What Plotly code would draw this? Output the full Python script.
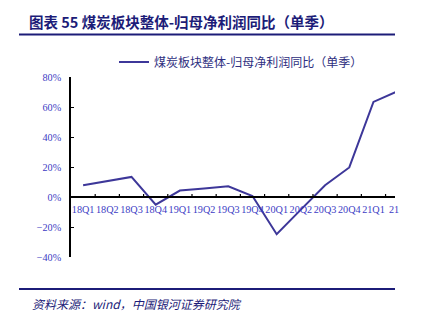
import plotly.graph_objects as go

# Quarterly YoY growth of attributable net profit, coal sector (%)
quarters = ["18Q1", "18Q2", "18Q3", "18Q4", "19Q1", "19Q2", "19Q3",
            "19Q4", "20Q1", "20Q2", "20Q3", "20Q4", "21Q1", "21Q2"]
yoy_pct = [7.8, 10.6, 13.4, -5.1, 4.3, 5.6, 7.1,
           0.7, -24.8, -8.4, 7.8, 19.7, 63.4, 70.6]
y_ticks = [-40, -20, 0, 20, 40, 60, 80]
y_tick_labels = ["−40%", "−20%", "0%", "20%", "40%", "60%", "80%"]

series_name = "煤炭板块整体-归母净利润同比（单季）"
title_text = "图表 55 煤炭板块整体-归母净利润同比（单季）"
source_text = "资料来源：wind，中国银河证券研究院"

W, H = 424, 331
L, R, T, B = 71, 29, 77, 74
PW, PH = W - L - R, H - T - B


def px(x):
    return (x - L) / PW


def py(y):
    return (H - B - y) / PH


NAVY = "#1c1c78"
LINE = "#3d3799"
TICK = "#3b3bc4"
TICK_FONT = dict(family="Liberation Serif", size=10.2, color=TICK)

fig = go.Figure()
fig.add_trace(go.Scatter(
    x=list(range(len(quarters))), y=yoy_pct, mode="lines",
    name=series_name, line=dict(color=LINE, width=2),
))

fig.update_layout(
    width=W, height=H,
    margin=dict(l=L, r=R, t=T, b=B),
    paper_bgcolor="white", plot_bgcolor="white",
    showlegend=True,
    legend=dict(x=px(114), y=py(62), xanchor="left", yanchor="middle",
                font=dict(family="Noto Sans CJK SC", size=12, color="#2e2e80"),
                bgcolor="rgba(0,0,0,0)", itemwidth=30),
    xaxis=dict(
        range=[-0.5, 12.89],
        tickmode="array",
        tickvals=list(range(len(quarters) - 1)),
        ticktext=quarters[:-1],
        tickangle=0,
        showgrid=False, zeroline=False,
        showline=True, linecolor="black", linewidth=1.5,
        anchor="free", position=py(196.7),
        ticks="", ticklabelstandoff=3, tickfont=TICK_FONT,
    ),
    yaxis=dict(
        range=[-40, 80],
        tickmode="array", tickvals=y_ticks, ticktext=y_tick_labels,
        showgrid=False, zeroline=False,
        showline=True, linecolor="black", linewidth=1.5,
        ticks="inside", ticklen=3, tickcolor="black", tickwidth=1.2,
        ticklabelstandoff=6, tickfont=TICK_FONT,
    ),
)

# boundary tick marks on the category axis (pointing upward from the zero line)
for i in range(len(quarters) - 1):
    fig.add_shape(type="line", xref="x", yref="y",
                  x0=i + 0.5, x1=i + 0.5, y0=0, y1=2.0,
                  line=dict(color="black", width=1.2))

# truncated label for the last quarter
fig.add_annotation(x=12.55, y=py(209), xref="x", yref="paper",
                   text="21", showarrow=False, xanchor="left", yanchor="middle",
                   font=TICK_FONT)

# header and footer
fig.add_annotation(x=px(27), y=py(21), xref="paper", yref="paper",
                   text="<b>" + title_text + "</b>",
                   showarrow=False, xanchor="left", yanchor="middle",
                   font=dict(family="Noto Sans CJK SC", size=14.5, color=NAVY))
fig.add_shape(type="line", xref="paper", yref="paper",
              x0=px(19), x1=px(395), y0=py(34.5), y1=py(34.5),
              line=dict(color=NAVY, width=2))
fig.add_shape(type="line", xref="paper", yref="paper",
              x0=px(19), x1=px(395), y0=py(289), y1=py(289),
              line=dict(color=NAVY, width=2))
fig.add_annotation(x=px(30), y=py(303), xref="paper", yref="paper",
                   text="<i>" + source_text + "</i>", showarrow=False,
                   xanchor="left", yanchor="middle",
                   font=dict(family="Noto Sans CJK SC", size=12, color=NAVY))

fig.write_html("out.html")
